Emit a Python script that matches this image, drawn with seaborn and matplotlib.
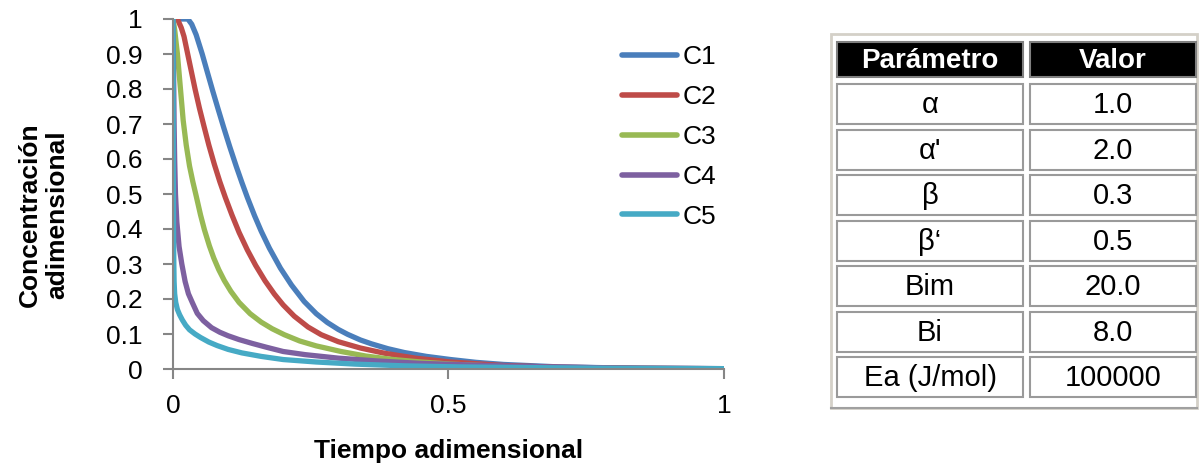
import pandas as pd
import seaborn as sb
import matplotlib.pyplot as plt
from matplotlib.patches import Rectangle

# curves (x = tiempo adimensional, y = concentracion)
c1_x = [0, 0.015, 0.027, 0.034, 0.042, 0.053, 0.062, 0.072, 0.082, 0.092, 0.103, 0.115, 0.125, 0.135, 0.148, 0.16, 0.175, 0.195, 0.215, 0.238, 0.26, 0.28, 0.3, 0.317, 0.34, 0.36, 0.39, 0.42, 0.46, 0.504, 0.55, 0.6, 0.7, 0.85, 1.0]
c1_y = [1, 1, 1, 0.985, 0.955, 0.9, 0.85, 0.795, 0.742, 0.69, 0.635, 0.578, 0.533, 0.49, 0.438, 0.394, 0.345, 0.288, 0.24, 0.193, 0.158, 0.133, 0.113, 0.099, 0.083, 0.072, 0.058, 0.047, 0.036, 0.027, 0.019, 0.013, 0.006, 0.002, 0.001]
c2_x = [0, 0.008, 0.015, 0.02, 0.026, 0.032, 0.04, 0.048, 0.056, 0.065, 0.075, 0.085, 0.095, 0.107, 0.12, 0.135, 0.15, 0.167, 0.184, 0.2, 0.22, 0.245, 0.269, 0.3, 0.34, 0.384, 0.44, 0.504, 0.6, 0.7, 0.85, 1.0]
c2_y = [1, 1, 0.975, 0.95, 0.905, 0.86, 0.8, 0.745, 0.695, 0.64, 0.585, 0.535, 0.49, 0.44, 0.39, 0.34, 0.296, 0.252, 0.214, 0.183, 0.151, 0.12, 0.098, 0.078, 0.06, 0.045, 0.031, 0.02, 0.01, 0.005, 0.002, 0.0008]
c3_x = [0, 0.003, 0.008, 0.013, 0.0185, 0.024, 0.03, 0.036, 0.042, 0.05, 0.057, 0.066, 0.074, 0.083, 0.093, 0.105, 0.12, 0.14, 0.16, 0.18, 0.202, 0.23, 0.26, 0.305, 0.35, 0.4, 0.45, 0.504, 0.6, 0.75, 1.0]
c3_y = [1, 0.97, 0.9, 0.81, 0.71, 0.64, 0.58, 0.535, 0.495, 0.44, 0.398, 0.352, 0.317, 0.284, 0.253, 0.222, 0.19, 0.158, 0.134, 0.115, 0.098, 0.08, 0.066, 0.05, 0.037, 0.027, 0.02, 0.014, 0.007, 0.002, 0.0005]
c4_x = [0, 0.001, 0.002, 0.003, 0.0045, 0.007, 0.011, 0.016, 0.022, 0.028, 0.035, 0.044, 0.055, 0.07, 0.085, 0.1, 0.12, 0.144, 0.17, 0.2, 0.24, 0.3, 0.37, 0.45, 0.55, 0.65, 0.8, 1.0]
c4_y = [1, 0.86, 0.7, 0.6, 0.5, 0.42, 0.35, 0.3, 0.25, 0.215, 0.19, 0.159, 0.138, 0.118, 0.105, 0.095, 0.084, 0.073, 0.062, 0.05, 0.041, 0.031, 0.023, 0.016, 0.011, 0.007, 0.003, 0.001]
c5_x = [0, 0.0005, 0.001, 0.0015, 0.002, 0.003, 0.005, 0.008, 0.012, 0.017, 0.023, 0.03, 0.04, 0.05, 0.065, 0.08, 0.1, 0.125, 0.16, 0.2, 0.26, 0.33, 0.42, 0.52, 0.65, 0.8, 1.0]
c5_y = [1, 0.6, 0.4, 0.3, 0.25, 0.215, 0.19, 0.17, 0.155, 0.14, 0.125, 0.112, 0.1, 0.09, 0.077, 0.067, 0.056, 0.046, 0.036, 0.027, 0.02, 0.014, 0.009, 0.006, 0.004, 0.002, 0.001]

series = ['C1', 'C2', 'C3', 'C4', 'C5']
colors = ['#4A7EBB', '#BE4B48', '#98B954', '#7D60A0', '#46AAC5']

param_names = ['α', "α'", 'β', 'β‘', 'Bim', 'Bi', 'Ea (J/mol)']
param_values = ['1.0', '2.0', '0.3', '0.5', '20.0', '8.0', '100000']

frames = []
for name, xs, ys in zip(series, [c1_x, c2_x, c3_x, c4_x, c5_x], [c1_y, c2_y, c3_y, c4_y, c5_y]):
    frames.append(pd.DataFrame({'t': xs, 'c': ys, 'serie': name}))
df = pd.concat(frames, ignore_index=True)

plt.rcParams['font.family'] = ['Liberation Sans', 'DejaVu Sans']

fig = plt.figure(figsize=(12, 4.65), dpi=100)
ax = fig.add_axes([173/1200, 96/465, 551/1200, 350/465])

sb.lineplot(data=df, x='t', y='c', hue='serie', palette=colors,
            estimator=None, linewidth=3.8, ax=ax)
for line in ax.get_lines():
    line.set_solid_joinstyle('round')

ax.set_xlim(0, 1)
ax.set_ylim(0, 1)
ax.set_xticks([0, 0.5, 1])
ax.set_xticklabels(['0', '0.5', '1'])
ax.set_yticks([i / 10 for i in range(11)])
ax.set_yticklabels(['0'] + [f'{i/10:g}' for i in range(1, 10)] + ['1'])
for s in ['top', 'right']:
    ax.spines[s].set_visible(False)
for s in ['left', 'bottom']:
    ax.spines[s].set_color('#868686')
    ax.spines[s].set_linewidth(1.5)
ax.tick_params(axis='y', colors='#868686', labelcolor='black', labelsize=19, length=7, width=1.5, pad=15)
ax.tick_params(axis='x', colors='#868686', labelcolor='black', labelsize=19, length=7, width=1.5, pad=11)

ax.set_xlabel('Tiempo adimensional', fontsize=19, fontweight='bold')
ax.set_ylabel('Concentración\nadimensional', fontsize=19, fontweight='bold', linespacing=1.2)
ax.xaxis.set_label_coords(0.5, -0.2)
ax.yaxis.set_label_coords(-0.188, 0.44)

leg = ax.legend(frameon=False, fontsize=19, loc='upper left',
                bbox_to_anchor=(0.795, 0.955), handlelength=2.1,
                handletextpad=0.2, labelspacing=0.6, borderaxespad=0)
for line in leg.get_lines():
    line.set_linewidth(4)
    line.set_solid_capstyle('round')

# parameter table
tab = fig.add_axes([0, 0, 1, 1])
tab.set_xlim(0, 1200)
tab.set_ylim(465, 0)
tab.axis('off')

tab.add_patch(Rectangle((831, 34), 366, 374, fill=False, edgecolor='#d4d0c8', linewidth=2))
tab.plot([831, 1197], [408, 408], color='#a0a0a0', linewidth=1.5)

col_x = [837, 1030]
col_w = [186, 166]
row_top = [42] + [84 + 45.5 * i for i in range(7)]
row_h = [35] + [40] * 7

for j, head in enumerate(['Parámetro', 'Valor']):
    tab.add_patch(Rectangle((col_x[j], row_top[0]), col_w[j], row_h[0],
                            facecolor='black', edgecolor='#808080', linewidth=1.5))
    tab.text(col_x[j] + col_w[j] / 2, row_top[0] + row_h[0] / 2 + 1, head, color='white',
             fontsize=20, fontweight='bold', ha='center', va='center')

for i, (name, val) in enumerate(zip(param_names, param_values)):
    top = row_top[i + 1]
    for j, txt in enumerate([name, val]):
        tab.add_patch(Rectangle((col_x[j], top), col_w[j], row_h[i + 1],
                                facecolor='white', edgecolor='#9a9a9a', linewidth=1.5))
        tab.text(col_x[j] + col_w[j] / 2, top + row_h[i + 1] / 2 + 1, txt,
                 fontsize=21, ha='center', va='center')

plt.savefig('out.png')
